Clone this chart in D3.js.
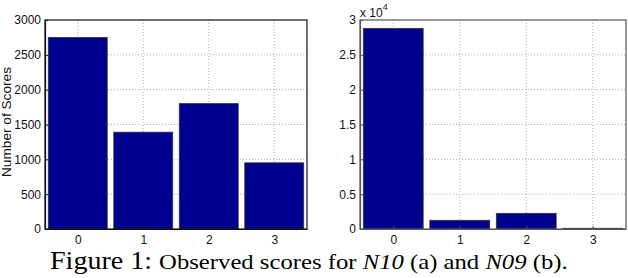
<!DOCTYPE html>
<html><head><meta charset="utf-8">
<script src="https://cdn.jsdelivr.net/npm/d3@7"></script>
<style>body{margin:0;background:#fff}svg{display:block}</style>
</head><body>
<svg id="c" width="628" height="278"></svg>
<script>
const categories = [0, 1, 2, 3];
const valuesN10 = [2750, 1390, 1800, 950];
const valuesN09 = [28800, 1250, 2250, 100];
const ticksN10 = [0, 500, 1000, 1500, 2000, 2500, 3000];
const ticksN09 = [0, 5000, 10000, 15000, 20000, 25000, 30000];
const tickLabelsN09 = ["0", "0.5", "1", "1.5", "2", "2.5", "3"];

const svg = d3.select("#c");
const font = "'Liberation Sans', Arial, sans-serif";

function panel(opt) {
  const x = d3.scaleLinear().domain([-0.5, 3.5]).range([opt.x0, opt.x1]);
  const y = d3.scaleLinear().domain([0, opt.max]).range([opt.y1, opt.y0]);
  const g = svg.append("g");
  // grid
  g.selectAll(".gx").data(categories).enter().append("line")
    .attr("x1", d => x(d)).attr("x2", d => x(d))
    .attr("y1", opt.y0).attr("y2", opt.y1)
    .attr("stroke", "#999").attr("stroke-width", 0.8).attr("stroke-dasharray", "1,2");
  g.selectAll(".gy").data(opt.ticks.slice(1, -1)).enter().append("line")
    .attr("x1", opt.x0).attr("x2", opt.x1)
    .attr("y1", d => y(d)).attr("y2", d => y(d))
    .attr("stroke", "#999").attr("stroke-width", 0.8).attr("stroke-dasharray", "1,2");
  // bars
  const bw = 0.9;
  g.selectAll(".bar").data(opt.values).enter().append("rect")
    .attr("x", (d, i) => x(categories[i] - bw / 2))
    .attr("width", (d, i) => x(categories[i] + bw / 2) - x(categories[i] - bw / 2))
    .attr("y", d => y(d))
    .attr("height", d => y(0) - y(d))
    .attr("fill", "#00008f").attr("stroke", "#333").attr("stroke-width", 0.8);
  // box
  g.append("rect").attr("x", opt.x0).attr("y", opt.y0)
    .attr("width", opt.x1 - opt.x0).attr("height", opt.y1 - opt.y0)
    .attr("fill", "none").attr("stroke", opt.boxColor).attr("stroke-width", 1.2);
  // axes
  const yAxis = d3.axisLeft(y).tickValues(opt.ticks).tickSizeInner(-3).tickSizeOuter(0)
    .tickPadding(4).tickFormat((d, i) => opt.tickLabels[i]);
  const ya = g.append("g").attr("transform", `translate(${opt.x0},0)`).call(yAxis);
  const xAxis = d3.axisBottom(x).tickValues(categories).tickSizeInner(-3).tickSizeOuter(0)
    .tickPadding(6).tickFormat(d => d);
  const xa = g.append("g").attr("transform", `translate(0,${opt.y1})`).call(xAxis);
  [ya, xa].forEach(a => {
    a.select(".domain").attr("stroke", opt.boxColor).attr("stroke-width", 1.2);
    a.selectAll(".tick line").attr("stroke", opt.boxColor);
    a.selectAll("text").attr("font-family", font).attr("font-size", 12).attr("fill", "#111");
  });
  return {x, y, g};
}

panel({x0: 45, x1: 307, y0: 20, y1: 229, max: 3000, values: valuesN10,
  ticks: ticksN10, tickLabels: ticksN10.map(String), boxColor: "#111"});
panel({x0: 360, x1: 626, y0: 20, y1: 229, max: 30000, values: valuesN09,
  ticks: ticksN09, tickLabels: tickLabelsN09, boxColor: "#555"});

// y label
svg.append("text").attr("transform", "translate(11,122) rotate(-90)")
  .attr("text-anchor", "middle").attr("font-family", font).attr("font-size", 12)
  .attr("textLength", 110).attr("lengthAdjust", "spacingAndGlyphs")
  .attr("fill", "#111").text("Number of Scores");

// exponent
const ex = svg.append("text").attr("x", 360).attr("y", 17)
  .attr("font-family", font).attr("font-size", 12).attr("fill", "#111");
ex.append("tspan").text("x 10");
ex.append("tspan").attr("dy", -7).attr("font-size", 9).text("4");

// caption
const capG = svg.append("g");
const cap = capG.append("text").attr("x", 0).attr("y", 0)
  .attr("font-family", "'Liberation Serif', 'Times New Roman', serif").attr("fill", "#000");
cap.append("tspan").attr("font-size", 25).text("Figure 1: ");
cap.append("tspan").attr("font-size", 22).text("Observed scores for ");
cap.append("tspan").attr("font-size", 22).attr("font-style", "italic").text("N10");
cap.append("tspan").attr("font-size", 22).text(" (a) and ");
cap.append("tspan").attr("font-size", 22).attr("font-style", "italic").text("N09");
cap.append("tspan").attr("font-size", 22).text(" (b).");
const bb = cap.node().getBBox();
const sx = 518 / bb.width;
capG.attr("transform", `translate(50,269) scale(${sx},1)`);
</script>
</body></html>
